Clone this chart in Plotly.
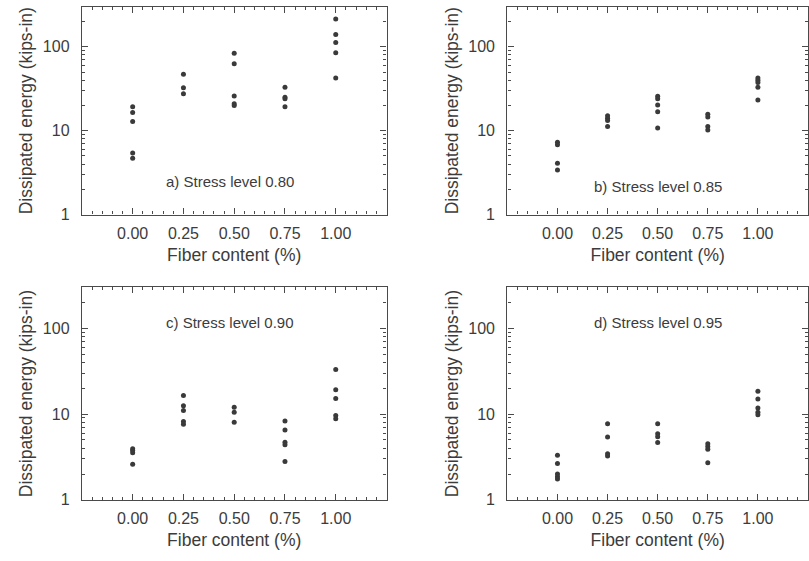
import plotly.graph_objects as go

# ---------------- data ----------------
fiber_levels = [0.00, 0.25, 0.50, 0.75, 1.00]
fiber_tick_text = ["0.00", "0.25", "0.50", "0.75", "1.00"]

# dissipated energy (kips-in) per fiber content, for each stress level
energy_080 = [[19.3, 16.5, 12.9, 5.4, 4.7],
              [47.0, 32.5, 27.5],
              [84.0, 63.0, 26.0, 21.0, 20.0],
              [33.0, 25.0, 24.0, 19.3],
              [215.0, 140.0, 113.0, 85.0, 42.5]]
energy_085 = [[7.3, 6.8, 4.1, 3.4],
              [15.1, 14.1, 13.2, 11.2],
              [25.7, 24.0, 20.2, 16.8, 10.8],
              [15.7, 14.6, 11.2, 10.2],
              [42.5, 40.0, 37.5, 33.0, 23.3]]
energy_090 = [[3.95, 3.75, 3.55, 2.6],
              [16.5, 12.5, 11.0, 8.2, 7.6],
              [12.0, 10.5, 8.0],
              [8.3, 6.5, 4.7, 4.4, 2.8],
              [33.0, 19.2, 15.2, 9.6, 8.8]]
energy_095 = [[3.3, 2.65, 2.0, 1.86, 1.75],
              [7.7, 5.4, 3.45, 3.25],
              [7.7, 5.9, 5.45, 4.65],
              [4.5, 4.2, 3.9, 2.7],
              [18.4, 15.0, 11.8, 10.5, 9.8]]

panel_labels = ["a) Stress level 0.80", "b) Stress level 0.85",
                "c) Stress level 0.90", "d) Stress level 0.95"]
panel_data = [energy_080, energy_085, energy_090, energy_095]
# annotation anchor (data x, log10 y)
label_pos = [(0.48, 0.39), (0.50, 0.34), (0.48, 2.07), (0.50, 2.07)]

x_title = "Fiber content (%)"
y_title = "Dissipated energy (kips-in)"

# ---------------- style ----------------
INK = "#3c3c3c"
LINE = "#4a4a4a"
FONT = "Liberation Sans, Arial, Helvetica, sans-serif"
W, H = 809, 561

x_domains = [[82 / W, 387 / W], [508 / W, 1.0], [82 / W, 387 / W], [508 / W, 1.0]]
y_domains = [[1 - 218 / H, 1 - 7 / H], [1 - 218 / H, 1 - 7 / H],
             [1 - 508 / H, 1 - 292 / H], [1 - 508 / H, 1 - 292 / H]]

fig = go.Figure()
annotations = []
for i, (data, label) in enumerate(zip(panel_data, panel_labels)):
    xs, ys = [], []
    for f, vals in zip(fiber_levels, data):
        xs.extend([f] * len(vals))
        ys.extend(vals)
    sfx = "" if i == 0 else str(i + 1)
    fig.add_trace(go.Scatter(
        x=xs, y=ys, mode="markers", xaxis="x" + sfx, yaxis="y" + sfx,
        marker=dict(size=5, color="#3a3a3a", line=dict(width=0)),
        showlegend=False, hoverinfo="x+y"))

    common = dict(showline=True, linecolor=LINE, linewidth=1.3, mirror="ticks",
                  ticks="inside", tickcolor=LINE, tickwidth=1,
                  showgrid=False, zeroline=False,
                  tickfont=dict(family=FONT, size=16, color=INK))
    xa = dict(common, domain=x_domains[i], range=[-0.25, 1.25],
              tickvals=fiber_levels, ticktext=fiber_tick_text, ticklen=6,
              anchor="y" + sfx,
              minor=dict(dtick=0.05, tick0=0, ticks="inside", ticklen=3,
                         tickcolor=LINE, tickwidth=1),
              ticklabelstandoff=4)
    xa["title"] = dict(text=x_title, font=dict(family=FONT, size=17.5, color=INK),
                       standoff=7)
    ya = dict(common, domain=y_domains[i], type="log", range=[0, 2.477],
              dtick=1, ticklen=6, anchor="x" + sfx,
              minor=dict(dtick="D1", ticks="inside", ticklen=3,
                         tickcolor=LINE, tickwidth=1),
              ticklabelstandoff=8)
    ya["title"] = dict(text=y_title, font=dict(family=FONT, size=17.5, color=INK),
                       standoff=5)
    fig.update_layout(**{"xaxis" + sfx: xa, "yaxis" + sfx: ya})

    lx, ly = label_pos[i]
    annotations.append(dict(text=label, x=lx, y=ly, xref="x" + sfx, yref="y" + sfx,
                            showarrow=False,
                            font=dict(family=FONT, size=15, color=INK)))

fig.update_layout(width=W, height=H, margin=dict(l=0, r=0, t=0, b=0),
                  paper_bgcolor="white", plot_bgcolor="white",
                  annotations=annotations, showlegend=False)

fig.write_html("out.html")
